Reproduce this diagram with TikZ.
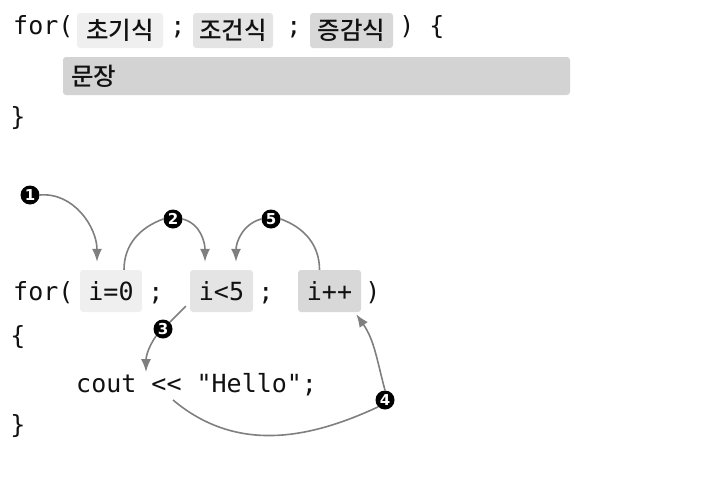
\documentclass[tikz,border=0pt]{standalone}
\usepackage{fontspec}
\setmainfont{DejaVu Sans}
\setmonofont{DejaVu Sans Mono}
\newfontfamily\korfont[UprightFont={* Medium}]{Noto Sans CJK KR}
\usetikzlibrary{arrows.meta, positioning}

\definecolor{inkgray}{HTML}{111111}
\definecolor{flowgray}{HTML}{7F7F7F}
\definecolor{shadeA}{HTML}{EFEFEF}
\definecolor{shadeB}{HTML}{E4E4E4}
\definecolor{shadeC}{HTML}{D8D8D8}
\definecolor{shadeD}{HTML}{D3D3D3}

\newcommand{\codefont}{\ttfamily\fontsize{25}{25}\selectfont}
\newcommand{\korsize}{\korfont\fontsize{24.5}{24.5}\selectfont}

\tikzset{
  code/.style={font=\codefont, text=inkgray, anchor=base, inner sep=0pt},
  hlbox/.style={rounded corners=3pt, inner sep=0pt, text=inkgray},
  numdot/.style={circle, fill=black, text=white, inner sep=0pt, minimum size=19pt,
    font=\bfseries\fontsize{15}{15}\selectfont},
  flow/.style={draw=flowgray, line width=1.6pt},
  flowtip/.style={flow, -{Latex[length=13pt,width=10pt]}}
}

\begin{document}
\begin{tikzpicture}[x=1pt, y=1pt]
  \useasboundingbox (0,0) rectangle (722,-498);

  % general form
  \node[code, anchor=base west] (for1) at (13,-34) {for(};
  \node[hlbox, fill=shadeA, minimum width=86pt, minimum height=35pt, font=\korsize] (init) at (120,-30.5) {초기식};
  \node[code] (semi1) at (178,-34) {;};
  \node[hlbox, fill=shadeB, minimum width=80pt, minimum height=35pt, font=\korsize] (cond) at (233,-30.5) {조건식};
  \node[code] (semi2) at (294,-34) {;};
  \node[hlbox, fill=shadeC, minimum width=83pt, minimum height=35pt, font=\korsize] (incr) at (351.5,-30.5) {증감식};
  \node[code] (close1) at (407,-34) {)};
  \node[code] (open1) at (437,-34) {\{};
  \node[hlbox, fill=shadeD, minimum height=38pt, inner xsep=8pt, text width=491pt, align=left, font=\korsize] (stmt) at (316.5,-76) {문장};
  \node[code] (end1) at (18,-125) {\}};

  % example
  \node[code, anchor=base west] (for2) at (13,-300) {for(};
  \node[hlbox, fill=shadeA, minimum width=62pt, minimum height=42pt, font=\codefont] (binit) at (111,-291) {i=0};
  \node[code] (semi3) at (156,-300) {;};
  \node[hlbox, fill=shadeB, minimum width=63pt, minimum height=42pt, font=\codefont] (bcond) at (221.5,-291) {i<5};
  \node[code] (semi4) at (266,-300) {;};
  \node[hlbox, fill=shadeC, minimum width=63pt, minimum height=42pt, font=\codefont] (bincr) at (329.5,-291) {i++};
  \node[code] (close2) at (373,-300) {)};
  \node[code] (open2) at (18,-344) {\{};
  \node[code, anchor=base west] (hello) at (76,-392) {cout << "Hello";};
  \node[code] (end2) at (18,-433) {\}};

  \node[numdot] (n1) at (30,-195) {1};
  \node[numdot] (n2) at (173,-219) {2};
  \node[numdot] (n3) at (163,-329) {3};
  \node[numdot] (n4) at (385,-400) {4};
  \node[numdot] (n5) at (271,-219) {5};

  \coordinate (gap) at (146,-372);
  \coordinate (loopstart) at (173,-400);

  \draw[flowtip] (n1.east) to[out=5, in=90] ([xshift=-14pt, yshift=8pt]binit.north);
  \draw[flow] ([xshift=13pt]binit.north) to[out=90, in=200] (n2.west);
  \draw[flowtip] (n2.east) to[out=-15, in=90] ([xshift=-16.5pt, yshift=8pt]bcond.north);
  \draw[flow] ([xshift=-4pt, yshift=6pt]bcond.south west) -- (n3);
  \draw[flowtip] (n3.south west) to[out=-125, in=90] (gap);
  \draw[flow] (loopstart) to[out=-40, in=205] (n4.south west);
  \draw[flowtip] (n4.north) to[out=105, in=-55] ([xshift=-5pt, yshift=-2pt]bincr.south east);
  \draw[flow] ([xshift=-10pt]bincr.north) to[out=90, in=-20] (n5.east);
  \draw[flowtip] (n5.west) to[out=195, in=90] ([xshift=14.5pt, yshift=8pt]bcond.north);
\end{tikzpicture}
\end{document}
